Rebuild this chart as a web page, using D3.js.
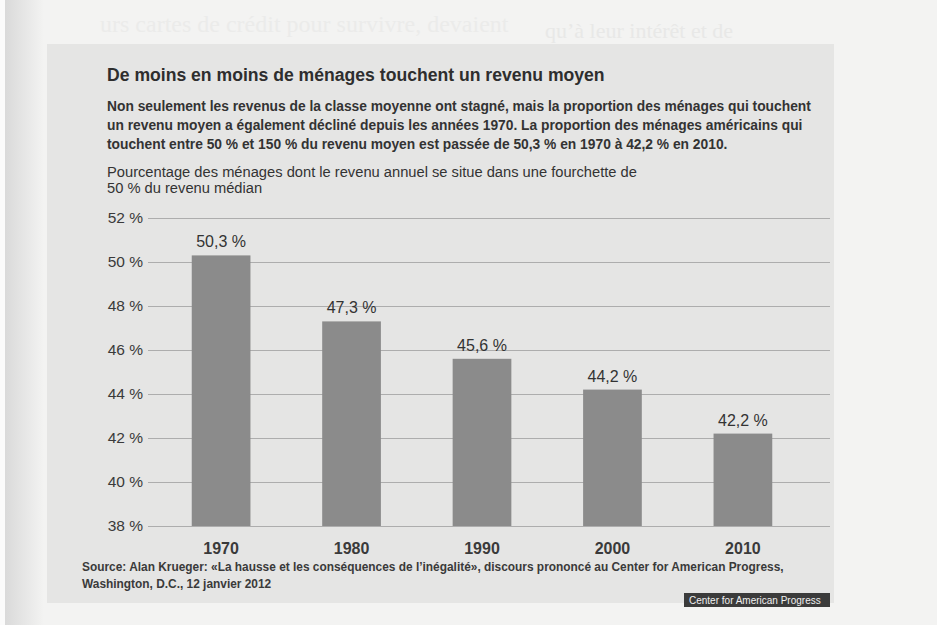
<!DOCTYPE html>
<html>
<head>
<meta charset="utf-8">
<style>
    body { margin: 0; background: #f3f3f2; }
    svg { display: block; font-family: "Liberation Sans", Arial, sans-serif; }
    .grid .tick line { stroke: #adadad; stroke-width: 1; }
    .grid .domain { display: none; }
    .grid .tick text { font-size: 15.5px; fill: #3a3a3a; }
</style>
</head>
<body>
<svg width="937" height="625"></svg>
<script src="https://d3js.org/d3.v7.min.js"></script>
<script>
    // data
    let years = ["1970", "1980", "1990", "2000", "2010"];
    let shares = [50.3, 47.3, 45.6, 44.2, 42.2];
    let yTicks = [38, 40, 42, 44, 46, 48, 50, 52];

    let title = "De moins en moins de ménages touchent un revenu moyen";
    let intro = [
        "Non seulement les revenus de la classe moyenne ont stagné, mais la proportion des ménages qui touchent",
        "un revenu moyen a également décliné depuis les années 1970. La proportion des ménages américains qui",
        "touchent entre 50 % et 150 % du revenu moyen est passée de 50,3 % en 1970 à 42,2 % en 2010."
    ];
    let axisTitle = [
        "Pourcentage des ménages dont le revenu annuel se situe dans une fourchette de",
        "50 % du revenu médian"
    ];
    let source = [
        "Source: Alan Krueger: «La hausse et les conséquences de l’inégalité», discours prononcé au Center for American Progress,",
        "Washington, D.C., 12 janvier 2012"
    ];

    let fmt = v => d3.format(".1f")(v).replace(".", ",") + " %";

    let svg = d3.select("svg");

    // page edge + show-through from the previous page
    let defs = svg.append("defs");
    let grad = defs.append("linearGradient").attr("id", "edge");
    grad.append("stop").attr("offset", "0").attr("stop-color", "#d9d9d9");
    grad.append("stop").attr("offset", "1").attr("stop-color", "#f3f3f2");
    svg.append("rect").attr("x", 4).attr("y", 0).attr("width", 40).attr("height", 625).attr("fill", "url(#edge)");
    svg.append("rect").attr("x", 0).attr("y", 0).attr("width", 5).attr("height", 625).attr("fill", "#fbfbfb");

    svg.append("text")
        .attr("x", 100).attr("y", 32)
        .style("font-family", "'Liberation Serif', serif")
        .style("font-size", "24px")
        .style("fill", "#ebebea")
        .text("urs cartes de crédit pour survivre, devaient");
    svg.append("text")
        .attr("x", 545).attr("y", 38)
        .style("font-family", "'Liberation Serif', serif")
        .style("font-size", "22px")
        .style("fill", "#e8e8e7")
        .text("qu’à leur intérêt et de");

    // grey panel
    svg.append("rect")
        .attr("x", 47).attr("y", 44)
        .attr("width", 787).attr("height", 559)
        .attr("fill", "#e5e5e4");

    svg.append("text")
        .attr("x", 107).attr("y", 81)
        .style("font-size", "17.6px")
        .style("font-weight", "bold")
        .style("fill", "#2e2e2e")
        .text(title);

    svg.append("g").selectAll("text")
        .data(intro)
        .join("text")
        .attr("x", 107)
        .attr("y", (d, i) => 111 + i * 19)
        .style("font-size", "13.8px")
        .style("font-weight", "bold")
        .style("fill", "#333")
        .text(d => d);

    svg.append("g").selectAll("text")
        .data(axisTitle)
        .join("text")
        .attr("x", 107)
        .attr("y", (d, i) => 177 + i * 16)
        .style("font-size", "14.7px")
        .style("fill", "#333")
        .text(d => d);

    let y = d3.scaleLinear()
        .domain([38, 52])
        .range([526, 218]);

    let x = d3.scaleBand()
        .domain(years)
        .range([150, 814])
        .paddingInner(0.55)
        .paddingOuter(0.32);

    let gridLeft = 148, gridRight = 830;

    svg.append("g")
        .attr("class", "grid")
        .attr("transform", `translate(${gridLeft},0)`)
        .call(d3.axisLeft(y)
            .tickValues(yTicks)
            .tickSize(-(gridRight - gridLeft))
            .tickPadding(5)
            .tickFormat(d => d + " %"));

    let rows = years.map((yr, i) => ({ year: yr, value: shares[i] }));

    svg.append("g")
        .selectAll("rect")
        .data(rows)
        .join("rect")
        .attr("x", d => x(d.year))
        .attr("width", x.bandwidth())
        .attr("y", d => y(d.value))
        .attr("height", d => y(38) - y(d.value))
        .attr("fill", "#8b8b8b");

    svg.append("g")
        .selectAll("text")
        .data(rows)
        .join("text")
        .attr("x", d => x(d.year) + x.bandwidth() / 2)
        .attr("y", d => y(d.value) - 8)
        .attr("text-anchor", "middle")
        .style("font-size", "16px")
        .style("fill", "#333")
        .text(d => fmt(d.value));

    svg.append("g")
        .selectAll("text")
        .data(years)
        .join("text")
        .attr("x", d => x(d) + x.bandwidth() / 2)
        .attr("y", 554)
        .attr("text-anchor", "middle")
        .style("font-size", "16px")
        .style("font-weight", "bold")
        .style("fill", "#3a3a3a")
        .text(d => d);

    svg.append("g").selectAll("text")
        .data(source)
        .join("text")
        .attr("x", 82)
        .attr("y", (d, i) => 571 + i * 17)
        .style("font-size", "11.9px")
        .style("font-weight", "bold")
        .style("fill", "#3a3a3a")
        .text(d => d);

    svg.append("rect")
        .attr("x", 684).attr("y", 593)
        .attr("width", 146).attr("height", 14)
        .attr("fill", "#3b3b3b");
    svg.append("text")
        .attr("x", 689).attr("y", 604)
        .style("font-size", "10px")
        .style("fill", "#f0f0f0")
        .text("Center for American Progress");
</script>
</body>
</html>
